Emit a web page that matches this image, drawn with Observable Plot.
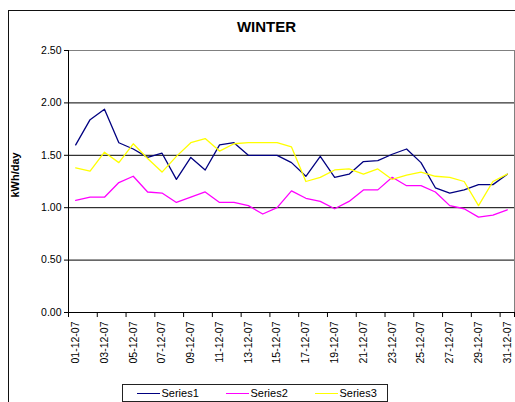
<!DOCTYPE html>
<html>
<head>
<meta charset="utf-8">
<script src="https://cdn.jsdelivr.net/npm/d3@7"></script>
<script src="https://cdn.jsdelivr.net/npm/@observablehq/plot@0.6"></script>
<style>
  html, body { margin: 0; padding: 0; background: #fff; }
  #wrap { position: relative; width: 515px; height: 402px; overflow: hidden; font-family: "Liberation Sans", Arial, sans-serif; }
  #border { position: absolute; left: 7.5px; top: 10px; width: 600px; height: 600px; border: 1px solid #111; box-sizing: border-box; }
  #title { position: absolute; left: 8px; width: 517px; top: 18px; text-align: center; font-weight: bold; font-size: 15px; color: #000; }
  #chart { position: absolute; left: 0; top: 0; }
  #legend { position: absolute; left: 121.5px; top: 384px; width: 266px; height: 18px; border: 1px solid #222; box-sizing: border-box; font-size: 11px; }
  #legend .ln { position: absolute; top: 8px; width: 23px; height: 0; border-top: 1.5px solid; }
  #legend .tx { position: absolute; top: 2px; color: #000; }
</style>
</head>
<body>
<div id="wrap">
  <div id="border"></div>
  <div id="title">WINTER</div>
  <div id="chart"></div>
  <div id="legend"></div>
</div>
<script>
const dates = ["01-12-07","02-12-07","03-12-07","04-12-07","05-12-07","06-12-07","07-12-07","08-12-07","09-12-07","10-12-07",
  "11-12-07","12-12-07","13-12-07","14-12-07","15-12-07","16-12-07","17-12-07","18-12-07","19-12-07","20-12-07",
  "21-12-07","22-12-07","23-12-07","24-12-07","25-12-07","26-12-07","27-12-07","28-12-07","29-12-07","30-12-07","31-12-07"];
const series1 = [1.60,1.84,1.94,1.62,1.56,1.48,1.52,1.27,1.48,1.36,1.60,1.62,1.50,1.50,1.50,1.43,1.30,1.49,1.29,1.32,1.44,1.45,1.51,1.56,1.43,1.19,1.14,1.17,1.22,1.22,1.32];
const series2 = [1.07,1.10,1.10,1.24,1.30,1.15,1.14,1.05,1.10,1.15,1.05,1.05,1.02,0.94,1.00,1.16,1.09,1.06,0.99,1.06,1.17,1.17,1.29,1.21,1.21,1.15,1.02,0.99,0.91,0.93,0.98];
const series3 = [1.38,1.35,1.53,1.43,1.61,1.47,1.34,1.49,1.62,1.66,1.54,1.61,1.62,1.62,1.62,1.58,1.25,1.29,1.36,1.37,1.32,1.37,1.27,1.31,1.34,1.30,1.29,1.25,1.02,1.25,1.32];
const seriesNames = ["Series1","Series2","Series3"];
const seriesColors = ["#000080","#FF00FF","#FFFF00"];
const yTicks = [0, 0.5, 1, 1.5, 2, 2.5];
const gridValues = [0.5, 1, 1.5, 2];

const allSeries = [series1, series2, series3];
const rows = [];
allSeries.forEach((vals, s) => vals.forEach((v, i) => rows.push({series: seriesNames[s], i, v})));
const labelIdx = dates.map((d, i) => i).filter(i => i % 2 === 0);
const betweenIdx = dates.map((d, i) => i - 0.5).filter((d, k) => k % 2 === 0).concat([dates.length - 0.5]);

const chart = Plot.plot({
  width: 515,
  height: 380,
  marginTop: 50,
  marginBottom: 68,
  marginLeft: 68,
  marginRight: 1,
  style: {fontFamily: "'Liberation Sans', Arial, sans-serif", fontSize: "10.5px", color: "#000", background: "transparent", overflow: "visible"},
  x: {type: "linear", domain: [-0.5, dates.length - 0.5], ticks: labelIdx, tickFormat: i => dates[i], tickRotate: -90, tickSize: 0, tickPadding: 9, label: null},
  y: {domain: [0, 2.5], ticks: yTicks, tickFormat: d3.format(".2f"), tickSize: 4, tickPadding: 3, label: null},
  color: {domain: seriesNames, range: seriesColors},
  marks: [
    Plot.frame({stroke: "#808080"}),
    Plot.ruleY(gridValues, {stroke: "#000", strokeWidth: 1}),
    Plot.ruleX(betweenIdx, {y1: 0, y2: -0.048, stroke: "#000"}),
    Plot.ruleX([-0.5], {stroke: "#000"}),
    Plot.ruleY([0], {stroke: "#000"}),
    Plot.line(rows, {x: "i", y: "v", z: "series", stroke: "series", strokeWidth: 1.3}),
    Plot.text(["kWh/day"], {frameAnchor: "left", rotate: -90, dx: -53, dy: 16, fontWeight: "bold", fontSize: 11, fill: "#000"})
  ]
});
document.getElementById("chart").appendChild(chart);

const legend = document.getElementById("legend");
const lineX = [14, 103, 192];
seriesNames.forEach((name, k) => {
  const ln = document.createElement("div");
  ln.className = "ln";
  ln.style.left = lineX[k] + "px";
  ln.style.borderTopColor = seriesColors[k];
  legend.appendChild(ln);
  const tx = document.createElement("div");
  tx.className = "tx";
  tx.style.left = (lineX[k] + 25) + "px";
  tx.textContent = name;
  legend.appendChild(tx);
});
</script>
</body>
</html>
